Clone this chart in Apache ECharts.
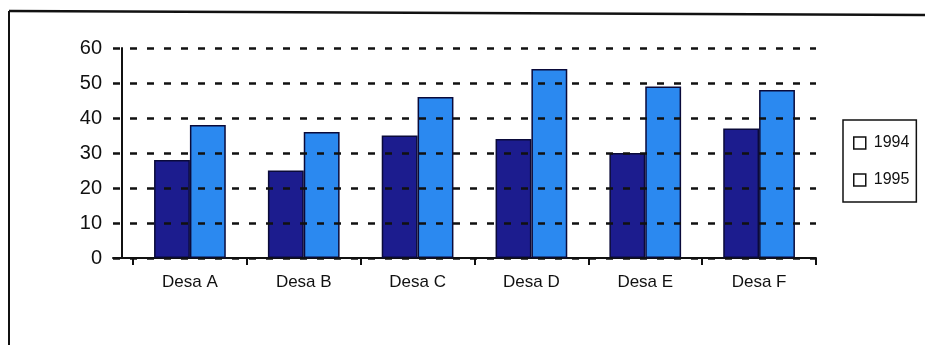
<!DOCTYPE html>
<html>
<head>
<meta charset="utf-8">
<title>Desa 1994 - 1995</title>
<script src="https://cdn.jsdelivr.net/npm/echarts@6/dist/echarts.min.js"></script>
<style>
  html, body { margin: 0; padding: 0; background: #ffffff; }
  #chart { width: 925px; height: 345px; }
</style>
</head>
<body>
<div id="chart"></div>
<script>
// Categories and values per year
const categories = ['Desa A', 'Desa B', 'Desa C', 'Desa D', 'Desa E', 'Desa F'];
const values1994 = [28, 25, 35, 34, 30, 37];
const values1995 = [38, 36, 46, 54, 49, 48];
const seriesNames = ['1994', '1995'];
const yMin = 0;
const yMax = 60;
const yStep = 10;

const FONT = '"Liberation Sans", Arial, sans-serif';
const INK = '#111111';

const chart = echarts.init(document.getElementById('chart'), null, { renderer: 'canvas' });

const gridTop = 48;
const gridHeight = 210;

chart.setOption({
  backgroundColor: '#ffffff',
  animation: false,
  textStyle: { fontFamily: FONT },
  grid: [
    // frame for the value scale and dashed gridlines
    { left: 113, top: gridTop, width: 703, height: gridHeight },
    // plotting area for the bars
    { left: 133, top: gridTop, width: 683, height: gridHeight }
  ],
  xAxis: [
    {
      gridIndex: 0, type: 'value', min: 0, max: 1,
      axisLine: { show: true, lineStyle: { color: INK, width: 2 } },
      axisTick: { show: false }, axisLabel: { show: false }, splitLine: { show: false }
    },
    {
      gridIndex: 1, type: 'category', data: categories, boundaryGap: true,
      axisLine: { show: false },
      axisTick: { show: true, length: 7, lineStyle: { color: INK, width: 2 } },
      axisLabel: { color: INK, fontSize: 17, margin: 16, fontFamily: FONT },
      splitLine: { show: false }
    }
  ],
  yAxis: [
    {
      gridIndex: 0, type: 'value', min: yMin, max: yMax, interval: yStep, z: 5,
      axisLine: { show: false }, axisTick: { show: false },
      axisLabel: { color: INK, fontSize: 20, margin: 11, fontFamily: FONT },
      splitLine: { show: true, lineStyle: { color: INK, width: 2.5, type: [7, 10] } }
    },
    {
      gridIndex: 1, type: 'value', min: yMin, max: yMax, interval: yStep, offset: 11,
      axisLine: { show: true, lineStyle: { color: INK, width: 2 } },
      axisTick: { show: false }, axisLabel: { show: false }, splitLine: { show: false }
    }
  ],
  legend: {
    orient: 'vertical',
    left: 843,
    top: 120,
    icon: 'rect',
    itemWidth: 12,
    itemHeight: 12,
    itemGap: 21,
    padding: [15, 7, 14, 10],
    borderColor: INK,
    borderWidth: 1.5,
    textStyle: { color: INK, fontSize: 16, fontFamily: FONT, padding: [0, 0, 0, 3] },
    data: seriesNames.map(n => ({
      name: n,
      itemStyle: { color: '#ffffff', borderColor: INK, borderWidth: 1.5 }
    }))
  },
  series: [
    {
      name: seriesNames[0], type: 'bar', xAxisIndex: 1, yAxisIndex: 1,
      data: values1994, barGap: '0%', barCategoryGap: '37%',
      itemStyle: { color: '#1c1c8e', borderColor: '#0a0a3a', borderWidth: 1.5 }
    },
    {
      name: seriesNames[1], type: 'bar', xAxisIndex: 1, yAxisIndex: 1,
      data: values1995, barGap: '0%', barCategoryGap: '37%',
      itemStyle: { color: '#2b89f0', borderColor: '#0a0a3a', borderWidth: 1.5 }
    }
  ],
  graphic: [
    // outer frame: top and left edges
    { type: 'line', shape: { x1: 9, y1: 11, x2: 925, y2: 15 }, style: { stroke: INK, lineWidth: 2.5 } },
    { type: 'line', shape: { x1: 9, y1: 11, x2: 9, y2: 345 }, style: { stroke: INK, lineWidth: 2 } }
  ]
});
</script>
</body>
</html>
